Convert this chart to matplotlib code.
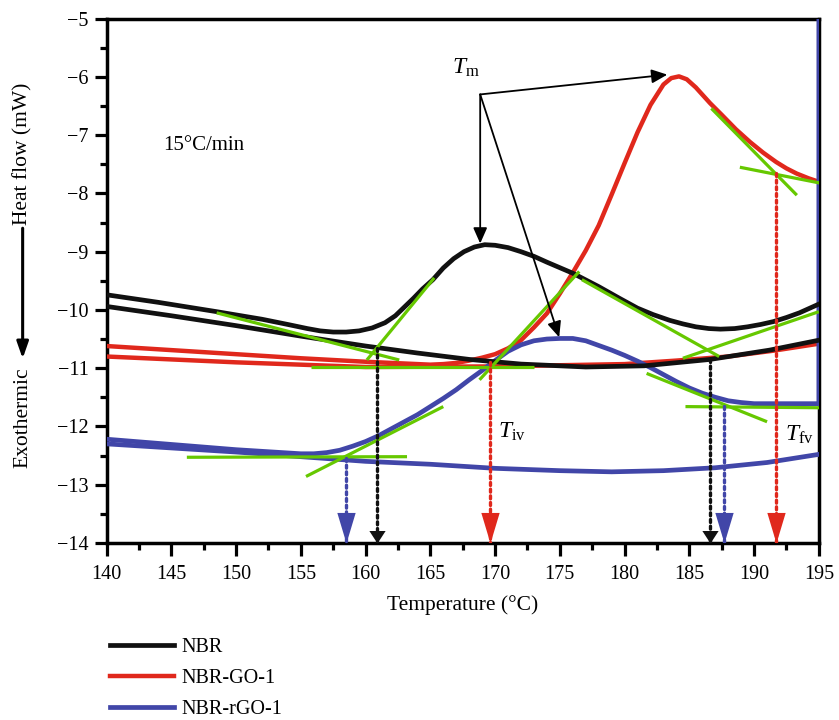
import numpy as np
import matplotlib
matplotlib.use("Agg")
from matplotlib import pyplot as plt
from matplotlib.ticker import MultipleLocator

plt.rcParams['font.family'] = ['Liberation Serif', 'DejaVu Serif']
plt.rcParams['mathtext.fontset'] = 'custom'
plt.rcParams['mathtext.rm'] = 'Liberation Serif'
plt.rcParams['mathtext.it'] = 'Liberation Serif:italic'
plt.rcParams['lines.solid_joinstyle'] = 'round'

BLACK = '#111111'
RED = '#e0281c'
BLUE = '#4146a8'
GREEN = '#66c800'

# NBR: heating run with peak + baseline run
nbr_x = [140, 144, 148.5, 152, 154, 155.5, 156.5, 157.5, 158.5, 159.5, 160.5, 161.5,
         162.3, 163, 163.7, 164.4, 165.2, 166, 166.8, 167.6, 168.4, 169.2, 170, 171,
         172, 173, 174, 176, 178, 179.6, 181, 182.2, 183.5, 184.5, 185.5, 186.5, 187.4,
         188.5, 189.5, 190.5, 191.5, 192.5, 193.5, 194.3, 195]
nbr_y = [-9.74, -9.87, -10.03, -10.16, -10.25, -10.32, -10.36, -10.38, -10.38, -10.36,
         -10.31, -10.22, -10.1, -9.95, -9.8, -9.64, -9.48, -9.28, -9.12, -9.0, -8.92,
         -8.88, -8.89, -8.93, -9.0, -9.08, -9.18, -9.37, -9.6, -9.8, -9.97, -10.08,
         -10.18, -10.24, -10.29, -10.32, -10.33, -10.32, -10.29, -10.25, -10.2, -10.13,
         -10.05, -9.97, -9.9]
nbr_base_x = [140, 145, 150, 155, 160, 164, 168, 172, 177, 181.5, 186.6, 191.2, 195]
nbr_base_y = [-9.94, -10.1, -10.27, -10.45, -10.62, -10.74, -10.85, -10.93, -10.98,
              -10.96, -10.85, -10.69, -10.52]

# NBR-GO-1
go_x = [140, 145, 150, 155, 160, 165, 166, 167, 168, 169, 170, 171, 172, 173, 174, 175,
        176, 177, 178, 179, 180, 181, 182, 183, 183.6, 184.2, 184.8, 185.5, 186.6, 187.5,
        188.6, 189.7, 190.7, 191.7, 192.5, 193.3, 194.2, 195]
go_y = [-10.62, -10.69, -10.76, -10.83, -10.89, -10.94, -10.93, -10.91, -10.87, -10.82,
        -10.76, -10.66, -10.52, -10.3, -10.06, -9.72, -9.36, -8.98, -8.55, -8.02, -7.48,
        -6.95, -6.48, -6.13, -6.02, -5.99, -6.04, -6.18, -6.45, -6.65, -6.9, -7.12,
        -7.3, -7.46, -7.57, -7.66, -7.74, -7.8]
go_base_x = [140, 150, 160, 170, 180, 184, 188, 191.5, 195]
go_base_y = [-10.8, -10.9, -10.98, -10.97, -10.93, -10.87, -10.8, -10.7, -10.58]

# NBR-rGO-1 (ends with the vertical rise along the right edge)
rgo_x = [140, 145, 150, 155, 156, 157, 158, 159, 160, 161, 162, 163, 164, 165, 166, 167,
         168, 169, 170, 171, 172, 173, 174, 175, 176, 177, 178, 179, 180, 181, 182, 183,
         184, 185, 186, 187, 188, 189, 190, 192.5, 195, 195]
rgo_y = [-12.22, -12.31, -12.4, -12.47, -12.47, -12.45, -12.41, -12.34, -12.26, -12.16,
         -12.04, -11.92, -11.8, -11.66, -11.52, -11.37, -11.2, -11.04, -10.87, -10.71,
         -10.6, -10.53, -10.5, -10.49, -10.49, -10.53, -10.61, -10.69, -10.78, -10.88,
         -10.99, -11.11, -11.23, -11.34, -11.43, -11.5, -11.56, -11.59, -11.61, -11.61,
         -11.61, -5.0]
rgo_base_x = [140, 145, 150, 155, 160, 165, 170, 175, 179, 183, 187, 191, 195]
rgo_base_y = [-12.3, -12.37, -12.44, -12.52, -12.6, -12.65, -12.72, -12.76, -12.78,
              -12.76, -12.71, -12.62, -12.48]

# tangent construction lines (x0, x1, y0, y1)
tangents = [
    (148.5, 162.6, -10.05, -10.86),
    (160.1, 165.3, -10.86, -9.45),
    (155.8, 173.0, -10.98, -10.98),
    (168.8, 176.5, -11.2, -9.34),
    (155.4, 166.0, -12.86, -11.66),
    (146.2, 163.2, -12.53, -12.52),
    (176.7, 187.3, -9.48, -10.8),
    (184.5, 195.0, -10.83, -10.03),
    (181.7, 191.0, -11.09, -11.92),
    (184.7, 195.3, -11.66, -11.68),
    (186.7, 193.3, -6.54, -8.03),
    (188.9, 195.5, -7.55, -7.84),
]

# onset / end temperatures (x, y start) with colours
drops_x = [158.5, 160.9, 169.6, 186.6, 187.7, 191.7]
drops_y = [-12.55, -10.65, -10.9, -10.85, -11.65, -7.65]
drops_c = [BLUE, BLACK, RED, BLACK, BLUE, RED]

# Tm arrows: origin and peak targets
tm_origin = (168.85, -6.3)
tm_targets_x = [183.3, 168.85, 174.95]
tm_targets_y = [-5.96, -8.86, -10.47]

fig = plt.figure(figsize=(8.39, 7.2), dpi=100)
ax = fig.add_axes([0.127, 0.246, 0.849, 0.728])

l1, = ax.plot(nbr_x, nbr_y, color=BLACK, lw=3.4, zorder=3)
ax.plot(nbr_base_x, nbr_base_y, color=BLACK, lw=3.4, zorder=3)
l2, = ax.plot(go_x, go_y, color=RED, lw=3.2, zorder=2.6)
ax.plot(go_base_x, go_base_y, color=RED, lw=3.2, zorder=2.6)
l3, = ax.plot(rgo_x, rgo_y, color=BLUE, lw=3.4, zorder=2.8)
ax.plot(rgo_base_x, rgo_base_y, color=BLUE, lw=3.4, zorder=2.8)

for x0, x1, y0, y1 in tangents:
    ax.plot([x0, x1], [y0, y1], color=GREEN, lw=2.3, zorder=3.2, solid_capstyle='butt')

big_head = [(-0.3, 1.0), (0.3, 1.0), (0.0, 0.0)]
small_head = [(-0.65, 1.0), (0.65, 1.0), (0.0, 0.0)]
for x, y, c in zip(drops_x, drops_y, drops_c):
    ax.plot([x, x], [y, -14], color=c, lw=2.4, ls=(0, (0.9, 1.1)),
            dash_capstyle='round', zorder=4)
    if c == BLACK:
        ax.plot([x], [-14], marker=small_head, ms=18, color=c, mew=0,
                zorder=4.5, clip_on=False)
    else:
        ax.plot([x], [-14], marker=big_head, ms=44, color=c, mew=0,
                zorder=4.5, clip_on=False)

for tx, ty in zip(tm_targets_x, tm_targets_y):
    ax.annotate('', xy=(tx, ty), xytext=tm_origin,
                arrowprops=dict(arrowstyle='-|>,head_length=0.95,head_width=0.42',
                                color='black', lw=1.3, shrinkA=0, shrinkB=0,
                                mutation_scale=10), zorder=5)

ax.text(166.7, -5.95, r'$T_{\mathrm{m}}$', fontsize=17, va='baseline', ha='left')
ax.text(170.2, -12.2, r'$T_{\mathrm{iv}}$', fontsize=17, va='baseline', ha='left')
ax.text(192.4, -12.24, r'$T_{\mathrm{fv}}$', fontsize=17, va='baseline', ha='left')
ax.text(144.35, -7.25, '15°C/min', fontsize=15, va='baseline', ha='left')

ax.set_xlim(140, 195)
ax.set_ylim(-14, -5)
ax.xaxis.set_major_locator(MultipleLocator(5))
ax.xaxis.set_minor_locator(MultipleLocator(2.5))
ax.yaxis.set_major_locator(MultipleLocator(1))
ax.yaxis.set_minor_locator(MultipleLocator(0.5))
ax.tick_params(which='major', direction='out', length=9, width=2.3, labelsize=14.5,
               color='black')
ax.tick_params(axis='x', which='major', pad=7)
ax.tick_params(axis='y', which='major', pad=4)
ax.tick_params(which='minor', direction='out', length=5, width=2.3)
for s in ax.spines.values():
    s.set_linewidth(2.5)
    s.set_color('black')

ax.set_xlabel('Temperature (°C)', fontsize=15.5, labelpad=8)

fig.text(0.027, 0.786, 'Heat flow (mW)', rotation=90, fontsize=15.5, ha='center', va='center')
fig.text(0.027, 0.42, 'Exothermic', rotation=90, fontsize=15.5, ha='center', va='center')
ax.annotate('', xy=(0.027, 0.502), xytext=(0.027, 0.683),
            xycoords='figure fraction', textcoords='figure fraction',
            arrowprops=dict(arrowstyle='-|>,head_length=1.0,head_width=0.35',
                            color='black', lw=2.2, shrinkA=0, shrinkB=0,
                            mutation_scale=10))

fig.legend([l1, l2, l3], ['NBR', 'NBR-GO-1', 'NBR-rGO-1'], loc='upper left',
           bbox_to_anchor=(0.131, 0.114), frameon=False, fontsize=14.5,
           handlelength=3.2, handletextpad=0.35, labelspacing=0.58,
           borderpad=0, borderaxespad=0)

fig.savefig('out.png', dpi=100)
